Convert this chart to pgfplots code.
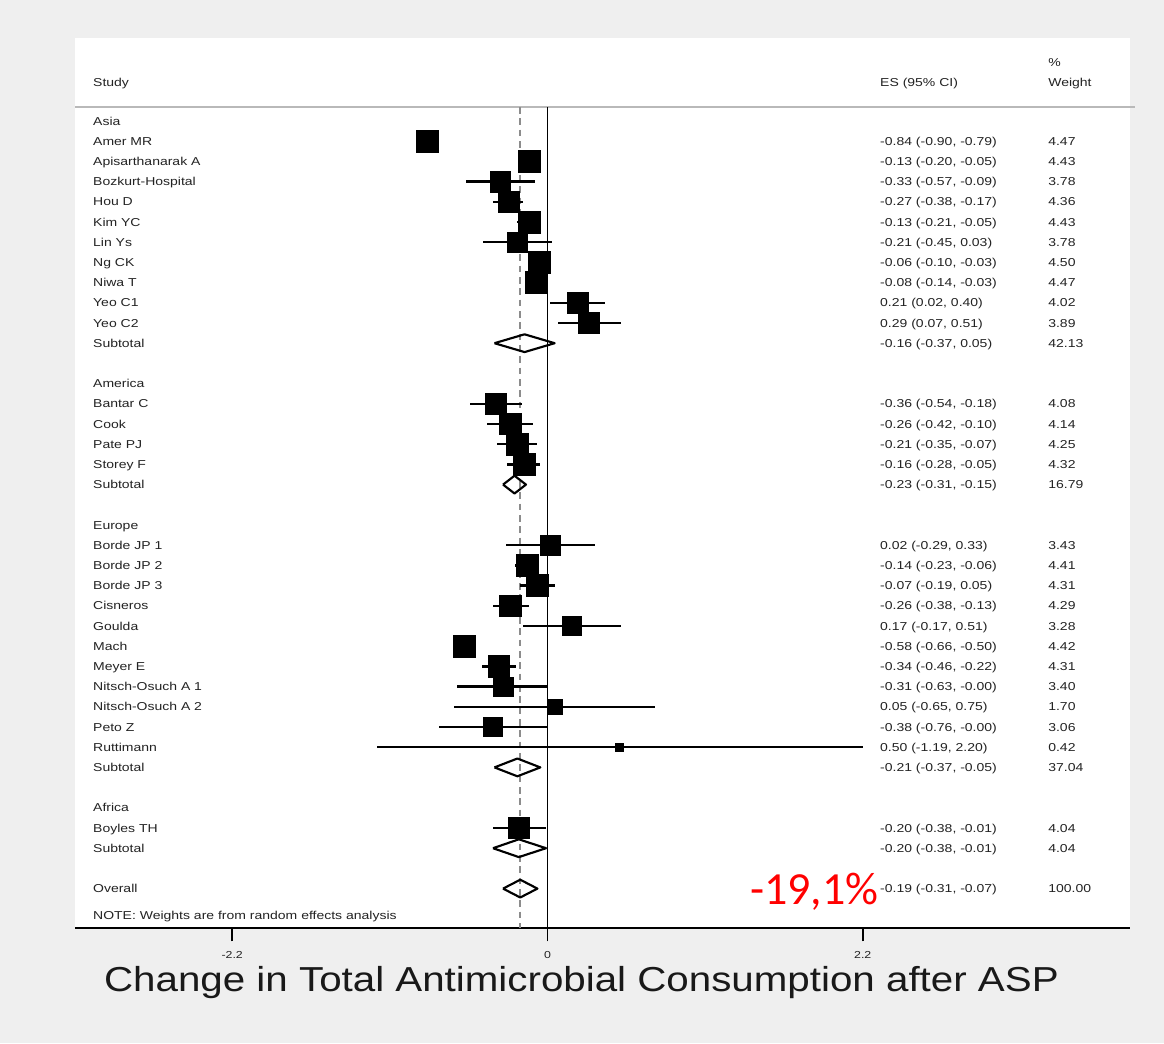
\documentclass[border=0pt]{standalone}
\usepackage{pgfplots}
\usepackage{pgfplotstable}
\pgfplotsset{compat=1.18}
\usepackage{graphicx}
\usepackage{fontspec}
\setmainfont{Liberation Sans}
\newfontfamily\calib{Carlito}

\definecolor{bg}{RGB}{239,239,239}
\definecolor{txt}{RGB}{35,35,35}
\definecolor{hdr}{RGB}{185,185,185}
\definecolor{refdash}{RGB}{140,140,140}

% Stata-style text is set slightly wide
\newcommand\lab[1]{\scalebox{1.22}[1]{#1}}
% column positions (data units)
\def\namex{-3.172}
\def\esx{2.320}
\def\wx{3.493}

% row: effect size, 95% CI, weight (%)
\pgfplotstableread{
row es lo hi w
1 -0.84 -0.90 -0.79 4.47
2 -0.13 -0.20 -0.05 4.43
3 -0.33 -0.57 -0.09 3.78
4 -0.27 -0.38 -0.17 4.36
5 -0.13 -0.21 -0.05 4.43
6 -0.21 -0.45 0.03 3.78
7 -0.06 -0.10 -0.03 4.50
8 -0.08 -0.14 -0.03 4.47
9 0.21 0.02 0.40 4.02
10 0.29 0.07 0.51 3.89
14 -0.36 -0.54 -0.18 4.08
15 -0.26 -0.42 -0.10 4.14
16 -0.21 -0.35 -0.07 4.25
17 -0.16 -0.28 -0.05 4.32
21 0.02 -0.29 0.33 3.43
22 -0.14 -0.23 -0.06 4.41
23 -0.07 -0.19 0.05 4.31
24 -0.26 -0.38 -0.13 4.29
25 0.17 -0.17 0.51 3.28
26 -0.58 -0.66 -0.50 4.42
27 -0.34 -0.46 -0.22 4.31
28 -0.31 -0.63 -0.00 3.40
29 0.05 -0.65 0.75 1.70
30 -0.38 -0.76 -0.00 3.06
31 0.50 -1.19 2.20 0.42
35 -0.20 -0.38 -0.01 4.04
}\studies

\tikzset{tx/.style={font=\fontsize{8.6}{10}\selectfont, text=txt, inner sep=0pt, anchor=base west, yshift=-3.1pt},
  pooled/.style={black, line width=1.6pt, line join=round}}

\newcommand\srow[4]{%
  \node[tx] at (axis cs:\namex,-#1) {\lab{#2}};
  \node[tx] at (axis cs:\esx,-#1) {\lab{#3}};
  \node[tx] at (axis cs:\wx,-#1) {\lab{#4}};}
\newcommand\grow[2]{\node[tx] at (axis cs:\namex,-#1) {\lab{#2}};}

\begin{document}
\begin{tikzpicture}[x=1pt,y=1pt]
\path[use as bounding box, fill=bg] (0,0) rectangle (873,782.25);
\begin{axis}[
  at={(56.25pt,86.25pt)}, anchor=south west,
  scale only axis, width=791.25pt, height=667.5pt,
  xmin=-3.297, xmax=4.065, ymin=-39.95, ymax=4.109,
  axis background/.style={fill=white},
  axis x line=bottom, axis y line=none,
  x axis line style={-, line width=1.4pt, black},
  xtick={-2.2,0,2.2},
  xticklabels={\lab{-2.2},\lab{0},\lab{2.2}},
  xticklabel style={font=\fontsize{7.6}{9}\selectfont, text=txt, yshift=-4pt},
  tick align=outside, major tick length=10pt,
  xtick style={line width=1.2pt, black},
  ytick=\empty,
  clip=false,
]
% header rule and reference lines
\addplot[hdr, line width=1.6pt] coordinates {(-3.297,0.69) (4.10,0.69)};
\addplot[black, line width=1.4pt] coordinates {(0,0.69) (0,-39.95)};
\addplot[refdash, line width=1.5pt, dash pattern=on 5pt off 3.5pt] coordinates {(-0.19,0.69) (-0.19,-39.95)};

% study estimates: box area follows weight, whiskers give the 95% CI
\addplot[scatter, only marks, mark=square*,
  scatter/use mapped color={draw=black, fill=black},
  visualization depends on={0.75+3.56*sqrt(\thisrow{w}) \as \msize},
  scatter/@pre marker code/.append style={/tikz/mark size=\msize},
  error bars/.cd, x dir=both, x explicit, error mark=none,
  error bar style={line width=1.7pt, black}]
  table[x=es, y expr=-\thisrow{row},
        x error plus expr=\thisrow{hi}-\thisrow{es},
        x error minus expr=\thisrow{es}-\thisrow{lo}] {\studies};

% pooled estimates (subtotals and overall)
\addplot[pooled] coordinates {(-0.37,-11) (-0.16,-10.56) (0.05,-11) (-0.16,-11.44) (-0.37,-11)};
\addplot[pooled] coordinates {(-0.31,-18) (-0.23,-17.56) (-0.15,-18) (-0.23,-18.44) (-0.31,-18)};
\addplot[pooled] coordinates {(-0.37,-32) (-0.21,-31.56) (-0.05,-32) (-0.21,-32.44) (-0.37,-32)};
\addplot[pooled] coordinates {(-0.38,-36) (-0.20,-35.56) (-0.01,-36) (-0.20,-36.44) (-0.38,-36)};
\addplot[pooled] coordinates {(-0.31,-38) (-0.19,-37.56) (-0.07,-38) (-0.19,-38.44) (-0.31,-38)};

% column headers
\node[tx] at (axis cs:\namex,1.93) {\lab{Study}};
\node[tx] at (axis cs:\esx,1.93) {\lab{ES (95\% CI)}};
\node[tx] at (axis cs:\wx,1.93) {\lab{Weight}};
\node[tx] at (axis cs:\wx,2.92) {\lab{\%}};

\grow{0}{Asia}
\srow{1}{Amer MR}{-0.84 (-0.90, -0.79)}{4.47}
\srow{2}{Apisarthanarak A}{-0.13 (-0.20, -0.05)}{4.43}
\srow{3}{Bozkurt-Hospital}{-0.33 (-0.57, -0.09)}{3.78}
\srow{4}{Hou D}{-0.27 (-0.38, -0.17)}{4.36}
\srow{5}{Kim YC}{-0.13 (-0.21, -0.05)}{4.43}
\srow{6}{Lin Ys}{-0.21 (-0.45, 0.03)}{3.78}
\srow{7}{Ng CK}{-0.06 (-0.10, -0.03)}{4.50}
\srow{8}{Niwa T}{-0.08 (-0.14, -0.03)}{4.47}
\srow{9}{Yeo C1}{0.21 (0.02, 0.40)}{4.02}
\srow{10}{Yeo C2}{0.29 (0.07, 0.51)}{3.89}
\srow{11}{Subtotal}{-0.16 (-0.37, 0.05)}{42.13}
\grow{13}{America}
\srow{14}{Bantar C}{-0.36 (-0.54, -0.18)}{4.08}
\srow{15}{Cook}{-0.26 (-0.42, -0.10)}{4.14}
\srow{16}{Pate PJ}{-0.21 (-0.35, -0.07)}{4.25}
\srow{17}{Storey F}{-0.16 (-0.28, -0.05)}{4.32}
\srow{18}{Subtotal}{-0.23 (-0.31, -0.15)}{16.79}
\grow{20}{Europe}
\srow{21}{Borde JP 1}{0.02 (-0.29, 0.33)}{3.43}
\srow{22}{Borde JP 2}{-0.14 (-0.23, -0.06)}{4.41}
\srow{23}{Borde JP 3}{-0.07 (-0.19, 0.05)}{4.31}
\srow{24}{Cisneros}{-0.26 (-0.38, -0.13)}{4.29}
\srow{25}{Goulda}{0.17 (-0.17, 0.51)}{3.28}
\srow{26}{Mach}{-0.58 (-0.66, -0.50)}{4.42}
\srow{27}{Meyer E}{-0.34 (-0.46, -0.22)}{4.31}
\srow{28}{Nitsch-Osuch A 1}{-0.31 (-0.63, -0.00)}{3.40}
\srow{29}{Nitsch-Osuch A 2}{0.05 (-0.65, 0.75)}{1.70}
\srow{30}{Peto Z}{-0.38 (-0.76, -0.00)}{3.06}
\srow{31}{Ruttimann}{0.50 (-1.19, 2.20)}{0.42}
\srow{32}{Subtotal}{-0.21 (-0.37, -0.05)}{37.04}
\grow{34}{Africa}
\srow{35}{Boyles TH}{-0.20 (-0.38, -0.01)}{4.04}
\srow{36}{Subtotal}{-0.20 (-0.38, -0.01)}{4.04}
\srow{38}{Overall}{-0.19 (-0.31, -0.07)}{100.00}
\grow{39.3}{NOTE: Weights are from random effects analysis}

% pooled change, as a percentage
\node[font=\calib\fontsize{34.5}{40}\selectfont, text=red, anchor=base west, inner sep=0pt]
  at (axis cs:1.413,-38.81) {-19,1\%};
\end{axis}
\node[font=\fontsize{26}{30}\selectfont, text=black!90, anchor=base, inner sep=0pt]
  at (436.1,38.6) {\scalebox{1.163}[1]{Change in Total Antimicrobial Consumption after ASP}};
\end{tikzpicture}
\end{document}
